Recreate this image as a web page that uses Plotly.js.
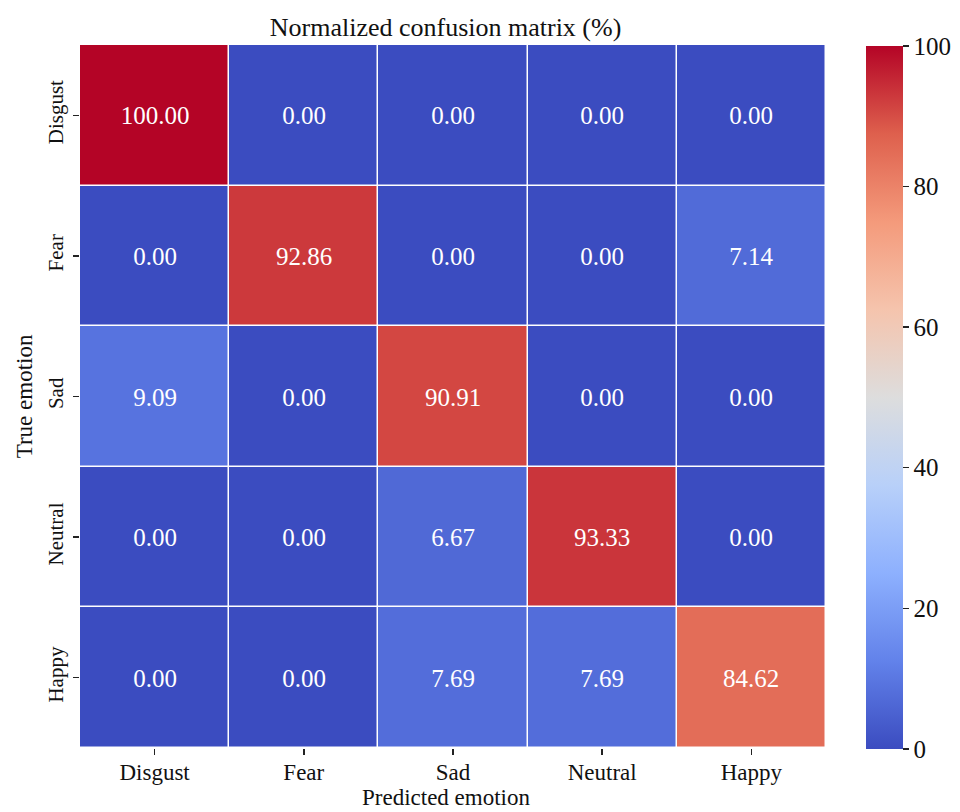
<!DOCTYPE html>
<html><head><meta charset="utf-8">
<script src="https://cdn.plot.ly/plotly-3.0.1.min.js"></script>
<style>body{margin:0;background:#fff}#chart{width:960px;height:812px}</style>
</head><body><div id="chart"></div>
<script>
const predicted = ["Disgust","Fear","Sad","Neutral","Happy"];
const trueLabels = ["Disgust","Fear","Sad","Neutral","Happy"];
const rowDisgust = [100.00, 0.00, 0.00, 0.00, 0.00];
const rowFear = [0.00, 92.86, 0.00, 0.00, 7.14];
const rowSad = [9.09, 0.00, 90.91, 0.00, 0.00];
const rowNeutral = [0.00, 0.00, 6.67, 93.33, 0.00];
const rowHappy = [0.00, 0.00, 7.69, 7.69, 84.62];
const colorTicks = [0, 20, 40, 60, 80, 100];

const coolwarm = [
  [0.0, "#3b4cc0"], [0.125, "#6282ea"], [0.25, "#8db0fe"], [0.375, "#b8d0f9"],
  [0.5, "#dddddd"], [0.625, "#f5c4ad"], [0.75, "#f49a7b"], [0.875, "#de604d"], [1.0, "#b40426"]
];
const font = "Liberation Serif";
const z = [rowDisgust, rowFear, rowSad, rowNeutral, rowHappy];

Plotly.newPlot("chart", [{
  type: "heatmap",
  x: predicted, y: trueLabels, z: z,
  zmin: 0, zmax: 100,
  colorscale: coolwarm,
  xgap: 1.5, ygap: 1.5,
  texttemplate: "%{z:.2f}",
  textfont: {family: font, size: 25, color: "#ffffff"},
  hoverinfo: "skip",
  colorbar: {
    x: 0.902, xanchor: "left", xref: "container", xpad: 0, ypad: 0,
    y: 0.9347, yanchor: "top", yref: "container", len: 703, lenmode: "pixels",
    thickness: 37, outlinewidth: 0,
    tickvals: colorTicks, ticks: "outside", ticklen: 6, tickwidth: 1.5, tickcolor: "#222",
    tickfont: {family: font, size: 25, color: "#111"}
  }
}], {
  width: 960, height: 812,
  margin: {l: 80, r: 134, t: 45, b: 64},
  paper_bgcolor: "#fff", plot_bgcolor: "#fff",
  font: {family: font, color: "#111"},
  title: {text: "Normalized confusion matrix (%)", font: {family: font, size: 26, color: "#111"},
    x: 0.49, xref: "paper", xanchor: "center", y: 0.967, yref: "container", yanchor: "middle"},
  xaxis: {
    tickfont: {family: font, size: 23}, ticks: "outside", ticklen: 6, tickwidth: 1.5, tickcolor: "#222",
    ticklabelstandoff: -3,
    showgrid: false, zeroline: false, showline: false
  },
  yaxis: {
    tickfont: {family: font, size: 21}, ticks: "outside", ticklen: 6, tickwidth: 1.5, tickcolor: "#222",
    ticklabelstandoff: 2,
    tickangle: -90, autorange: "reversed",
    showgrid: false, zeroline: false, showline: false
  },
  annotations: [
    {text: "Predicted emotion", xref: "paper", yref: "paper", x: 0.49, y: -0.071,
     xanchor: "center", yanchor: "middle", showarrow: false, font: {family: font, size: 23, color: "#111"}},
    {text: "True emotion", xref: "paper", yref: "paper", x: -0.074, y: 0.5, textangle: -90,
     xanchor: "center", yanchor: "middle", showarrow: false, font: {family: font, size: 23, color: "#111"}}
  ]
}, {displayModeBar: false, staticPlot: true});
</script></body></html>
